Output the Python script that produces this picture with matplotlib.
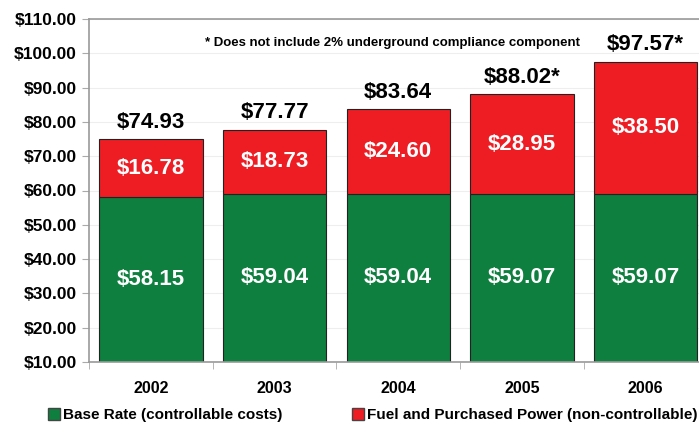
import numpy as np
import matplotlib.pyplot as plt
from matplotlib.patches import Patch

plt.rcParams['font.family'] = ['Liberation Sans', 'DejaVu Sans']
plt.rcParams['font.weight'] = 'bold'

years = ["2002", "2003", "2004", "2005", "2006"]
base_rate = [58.15, 59.04, 59.04, 59.07, 59.07]
fuel = [16.78, 18.73, 24.60, 28.95, 38.50]
totals = [74.93, 77.77, 83.64, 88.02, 97.57]
total_labels = ["$74.93", "$77.77", "$83.64", "$88.02*", "$97.57*"]
y_ticks = [10, 20, 30, 40, 50, 60, 70, 80, 90, 100, 110]

green = "#0E7F3F"
red = "#EE1D24"

fig = plt.figure(figsize=(6.99, 4.24), dpi=100)
ax = fig.add_axes([89 / 699, 62 / 424, 618.5 / 699, 343 / 424])

x = np.arange(len(years))
w = 0.836
ax.bar(x, base_rate, w, bottom=0, color=green, edgecolor="#222222", linewidth=0.8, zorder=2)
ax.bar(x, fuel, w, bottom=base_rate, color=red, edgecolor="#222222", linewidth=0.8, zorder=2)

ymin, ymax = 10, 110
for i in range(len(years)):
    ax.text(x[i], (ymin + base_rate[i]) / 2, f"${base_rate[i]:.2f}", color="white",
            fontsize=16, fontweight="bold", ha="center", va="center", zorder=3)
    ax.text(x[i], base_rate[i] + fuel[i] / 2, f"${fuel[i]:.2f}", color="white",
            fontsize=16, fontweight="bold", ha="center", va="center", zorder=3)
    ax.text(x[i], totals[i] + 1.9, total_labels[i], color="black",
            fontsize=16, fontweight="bold", ha="center", va="bottom", zorder=3)

ax.text(1.95, 103.0, "* Does not include 2% underground compliance component",
        fontsize=9.5, fontweight="bold", ha="center", va="center")

ax.set_xlim(-0.5, 4.5)
ax.set_ylim(ymin, ymax)
ax.set_yticks(y_ticks)
ax.set_yticklabels([f"${v:.2f}" for v in y_ticks], fontsize=12.5, fontweight="bold")
ax.set_xticks(x)
ax.set_xticklabels(years, fontsize=11.5, fontweight="bold")
ax.set_xticks(np.arange(-0.5, 5, 1), minor=True)
ax.tick_params(axis="x", which="major", length=0, pad=14)
ax.tick_params(axis="x", which="minor", length=5, color="#aaaaaa")
ax.tick_params(axis="y", length=5, color="#aaaaaa", pad=4)
ax.yaxis.grid(True, color="#eeeeee", linewidth=0.8, zorder=0)
ax.set_axisbelow(True)
for s in ["left", "bottom", "top"]:
    ax.spines[s].set_color("#999999")
    ax.spines[s].set_linewidth(1.2)
ax.spines["right"].set_visible(False)

handles = [Patch(facecolor=green, edgecolor="#444444", label="Base Rate (controllable costs)"),
           Patch(facecolor=red, edgecolor="#444444", label="Fuel and Purchased Power (non-controllable)")]
fig.legend(handles=handles, loc="lower left", bbox_to_anchor=(42 / 699, -0.01), ncol=2,
           frameon=False, fontsize=11, handlelength=0.8, handleheight=0.8,
           handletextpad=0.2, columnspacing=4.5, borderaxespad=0)

fig.savefig("out.png", dpi=100)
